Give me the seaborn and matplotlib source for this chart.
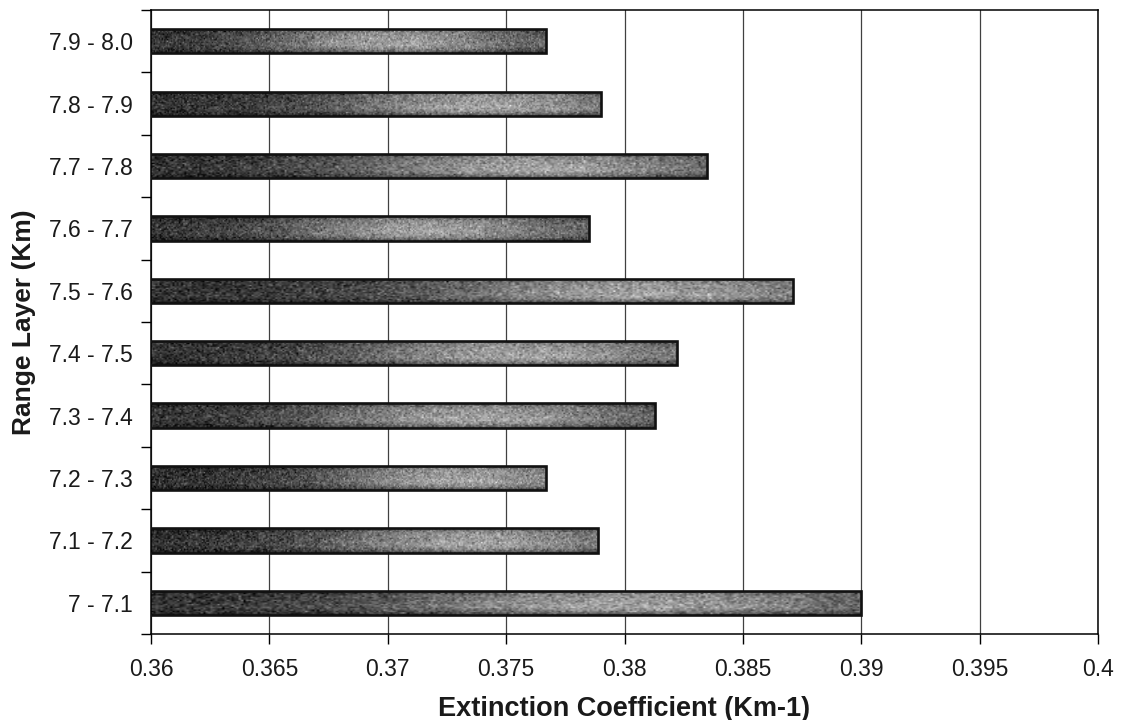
import numpy as np
import pandas as pd
import matplotlib
matplotlib.use("Agg")
import matplotlib.pyplot as plt
from matplotlib.ticker import FixedLocator
import seaborn as sns

# Range layers (top to bottom) and their extinction coefficients
layers = ["7.9 - 8.0", "7.8 - 7.9", "7.7 - 7.8", "7.6 - 7.7", "7.5 - 7.6",
          "7.4 - 7.5", "7.3 - 7.4", "7.2 - 7.3", "7.1 - 7.2", "7 - 7.1"]
extinction = [0.3767, 0.3790, 0.3835, 0.3785, 0.3871,
              0.3822, 0.3813, 0.3767, 0.3789, 0.3900]
x_ticks = [0.36, 0.365, 0.37, 0.375, 0.38, 0.385, 0.39, 0.395, 0.4]
x_tick_labels = ["0.36", "0.365", "0.37", "0.375", "0.38", "0.385", "0.39", "0.395", "0.4"]

df = pd.DataFrame({"layer": layers, "coef": extinction})

sns.set_theme(style="white")
plt.rcParams["font.family"] = ["Liberation Sans", "DejaVu Sans"]

fig = plt.figure(figsize=(11.29, 7.2), dpi=100)
ax = fig.add_axes([0.1337, 0.1194, 0.9726 - 0.1337, 0.986 - 0.1194])

sns.barplot(data=df, x="coef", y="layer", orient="h", order=layers,
            color="0.35", edgecolor="#111111", linewidth=1.9, width=0.39, ax=ax)

xmin, xmax = 0.36, 0.40
ax.set_xlim(xmin, xmax)
ax.set_ylim(len(layers) - 0.5, -0.5)

# Grainy grey shading inside each bar, clipped to the bar outline
rng = np.random.default_rng(11)
for i, patch in enumerate(ax.patches):
    x0, y0 = patch.get_x(), patch.get_y()
    w, h = patch.get_width(), patch.get_height()
    x_end = x0 + w
    left = max(x0, xmin)
    nx, ny = 300, 18
    t = np.linspace(0, 1, nx)
    peak = 0.6 + 0.2 * ((i * 37) % 10) / 10
    horiz = 0.19 + 0.36 * np.exp(-((t - peak) / 0.33) ** 2) + 0.08 * t
    v = np.linspace(-1, 1, ny)[:, None]
    vert = 1.0 - 0.45 * v ** 4 + 0.08 * np.exp(-((v - 0.35) / 0.3) ** 2)
    shade = horiz[None, :] * vert
    grain = rng.normal(0, 0.09, size=(ny, nx))
    img = np.clip(shade + grain, 0, 1)
    im = ax.imshow(img, cmap="gray", vmin=0, vmax=1, aspect="auto",
                   extent=[left, x_end, y0 + h, y0], interpolation="bilinear",
                   zorder=2)
    im.set_clip_path(patch)
    patch.set_facecolor("none")
    patch.set_zorder(3)

ax.set_xlim(xmin, xmax)
ax.set_ylim(len(layers) - 0.5, -0.5)

# Axes frame, grid and ticks
for side in ["left", "right", "top", "bottom"]:
    ax.spines[side].set_visible(True)
    ax.spines[side].set_color("black")
    ax.spines[side].set_linewidth(1.1)

ax.xaxis.set_major_locator(FixedLocator(x_ticks))
ax.set_xticklabels(x_tick_labels)
ax.grid(axis="x", color="0.25", linewidth=0.9)
ax.grid(axis="y", visible=False)
ax.set_axisbelow(True)

ax.yaxis.set_minor_locator(FixedLocator(np.arange(-0.5, len(layers), 1.0)))
ax.tick_params(axis="y", which="major", length=0, pad=13, labelsize=16.5,
               labelcolor="#1a1a1a")
ax.tick_params(axis="y", which="minor", length=7, width=1.0, color="black",
               direction="out", left=True)
ax.tick_params(axis="x", which="major", length=7, width=1.0, color="black",
               direction="out", bottom=True, pad=10, labelsize=16.5,
               labelcolor="#1a1a1a")

ax.set_xlabel("Extinction Coefficient (Km-1)", fontsize=19.5, fontweight="bold",
              color="#1a1a1a", labelpad=11)
ax.set_ylabel("Range Layer (Km)", fontsize=19, fontweight="bold",
              color="#1a1a1a", labelpad=9)

fig.savefig("out.png", dpi=100)
